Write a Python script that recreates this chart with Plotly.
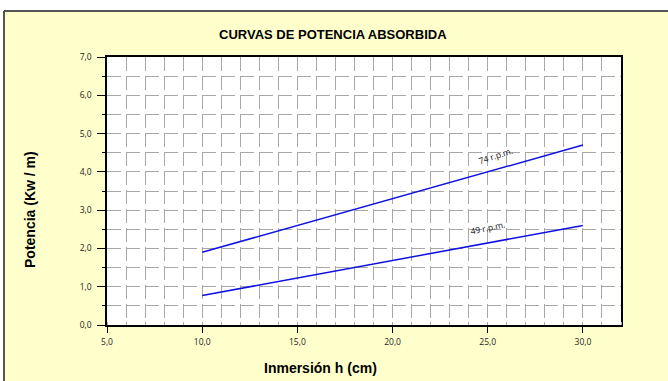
import plotly.graph_objects as go

# inmersion h (cm) and absorbed power (Kw / m)
h_cm = [10.0, 15.0, 20.0, 25.0, 30.0]
pot_74 = [1.90, 2.60, 3.30, 4.00, 4.70]
pot_49 = [0.77, 1.23, 1.69, 2.14, 2.60]

x_ticks = [5, 10, 15, 20, 25, 30]
y_ticks = [0, 1, 2, 3, 4, 5, 6, 7]

YELLOW = "#FFFFCC"
GRID = "#a8a8a8"

# plot area in px: left 107, right 621, top 57, bottom 325
L, R, T, B = 107, 621, 57, 325
W, H = R - L, B - T


def px(x):
    return (x - L) / W


def py(y):
    return (B - y) / H


fig = go.Figure()
fig.add_trace(go.Scatter(x=h_cm, y=pot_74, mode="lines",
                         line=dict(color="#1010e0", width=1.5), showlegend=False))
fig.add_trace(go.Scatter(x=h_cm, y=pot_49, mode="lines",
                         line=dict(color="#1010e0", width=1.5), showlegend=False))

fig.update_xaxes(
    range=[5, 32], tickvals=x_ticks, tickformat=".1f",
    ticks="outside", ticklen=6, tickcolor="black", ticklabelstandoff=2,
    showline=True, linecolor="black", linewidth=1.5, mirror=True,
    showgrid=False, zeroline=False,
    tickfont=dict(family="Open Sans", size=8.5, color="#222"),
    minor=dict(dtick=1, tick0=5, showgrid=True, gridcolor=GRID, gridwidth=1.4,
               griddash="14px,5px", ticks="inside", ticklen=3, tickcolor=GRID),
)
fig.update_yaxes(
    range=[0, 7], tickvals=y_ticks, tickformat=".1f",
    ticks="outside", ticklen=8, tickcolor="black", ticklabelstandoff=4,
    showline=True, linecolor="black", linewidth=1.5, mirror=True,
    showgrid=True, gridcolor=GRID, gridwidth=1.4, griddash="14px,5px",
    zeroline=False,
    tickfont=dict(family="Open Sans", size=8.5, color="#222"),
    minor=dict(dtick=0.5, tick0=0, showgrid=True, gridcolor=GRID, gridwidth=1.4,
               griddash="14px,5px", ticks="outside", ticklen=3, tickcolor="black"),
)

fig.add_annotation(x=25.4, y=4.43, text="74 r.p.m.", showarrow=False, textangle=-18,
                   font=dict(family="Open Sans", size=8.5, color="#111"))
fig.add_annotation(x=25.0, y=2.55, text="49 r.p.m.", showarrow=False, textangle=-12,
                   font=dict(family="Open Sans", size=8.5, color="#111"))

fig.add_annotation(xref="paper", yref="paper", x=px(333), y=py(34),
                   xanchor="center", yanchor="middle",
                   text="<b>CURVAS DE POTENCIA ABSORBIDA</b>", showarrow=False,
                   font=dict(family="Liberation Sans", size=13, color="black"))
fig.add_annotation(xref="paper", yref="paper", x=px(320), y=py(368),
                   xanchor="center", yanchor="middle",
                   text="<b>Inmersión h (cm)</b>", showarrow=False,
                   font=dict(family="Liberation Sans", size=14, color="black"))
fig.add_annotation(xref="paper", yref="paper", x=px(30), y=py(210), textangle=-90,
                   xanchor="center", yanchor="middle",
                   text="<b>Potencia (Kw / m)</b>", showarrow=False,
                   font=dict(family="Liberation Sans", size=14, color="black"))

# white strips outside the yellow frame, and the frame border
fig.add_shape(type="rect", xref="paper", yref="paper", x0=px(-10), x1=px(680),
              y0=py(11), y1=py(-10), fillcolor="white", line_width=0, layer="below")
fig.add_shape(type="rect", xref="paper", yref="paper", x0=px(-10), x1=px(4),
              y0=py(400), y1=py(11), fillcolor="white", line_width=0, layer="below")
fig.add_shape(type="line", xref="paper", yref="paper", x0=px(4), x1=px(680),
              y0=py(11), y1=py(11), line=dict(color="#555", width=2))
fig.add_shape(type="line", xref="paper", yref="paper", x0=px(4), x1=px(4),
              y0=py(11), y1=py(400), line=dict(color="#555", width=2))

fig.update_layout(
    width=668, height=381,
    margin=dict(l=L, r=668 - R, t=T, b=381 - B),
    paper_bgcolor=YELLOW, plot_bgcolor="white",
    separators=",.",
    showlegend=False,
)

fig.write_html("out.html", config={"displayModeBar": False},
               post_script="document.body.style.margin='0';document.body.style.overflow='hidden';")
